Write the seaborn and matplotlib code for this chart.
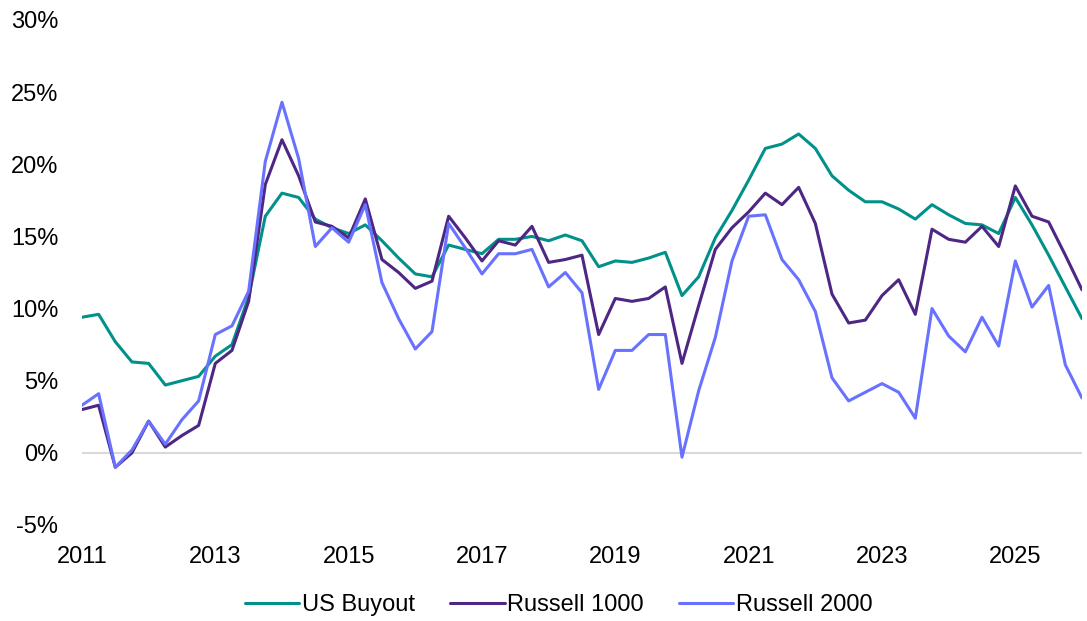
import pandas as pd
import matplotlib
matplotlib.use("Agg")
import matplotlib.pyplot as plt
import seaborn as sns

# quarterly returns, 2011Q1 .. 2026Q1
quarters = pd.period_range("2011Q1", "2026Q1", freq="Q")

us_buyout = [9.4, 9.6, 7.7, 6.3, 6.2, 4.7, 5.0, 5.3, 6.7, 7.5,
             10.8, 16.4, 18.0, 17.7, 16.2, 15.6, 15.2, 15.8, 14.7, 13.5,
             12.4, 12.2, 14.4, 14.1, 13.8, 14.8, 14.8, 15.0, 14.7, 15.1,
             14.7, 12.9, 13.3, 13.2, 13.5, 13.9, 10.9, 12.2, 14.9, 16.8,
             18.9, 21.1, 21.4, 22.1, 21.1, 19.2, 18.2, 17.4, 17.4, 16.9,
             16.2, 17.2, 16.5, 15.9, 15.8, 15.2, 17.7, 15.8, 13.7, 11.5,
             9.3]

russell_1000 = [3.0, 3.3, -1.0, 0.0, 2.2, 0.4, 1.2, 1.9, 6.2, 7.1,
                10.5, 18.6, 21.7, 19.2, 16.0, 15.7, 14.9, 17.6, 13.4, 12.5,
                11.4, 11.9, 16.4, 14.9, 13.3, 14.7, 14.4, 15.7, 13.2, 13.4,
                13.7, 8.2, 10.7, 10.5, 10.7, 11.5, 6.2, 10.2, 14.1, 15.6,
                16.7, 18.0, 17.2, 18.4, 15.9, 11.0, 9.0, 9.2, 10.9, 12.0,
                9.6, 15.5, 14.8, 14.6, 15.7, 14.3, 18.5, 16.4, 16.0, 13.7,
                11.3]

russell_2000 = [3.3, 4.1, -1.0, 0.2, 2.2, 0.6, 2.3, 3.6, 8.2, 8.8,
                11.2, 20.2, 24.3, 20.4, 14.3, 15.6, 14.6, 17.2, 11.8, 9.3,
                7.2, 8.4, 15.9, 14.2, 12.4, 13.8, 13.8, 14.1, 11.5, 12.5,
                11.1, 4.4, 7.1, 7.1, 8.2, 8.2, -0.3, 4.3, 8.0, 13.3,
                16.4, 16.5, 13.4, 12.0, 9.8, 5.2, 3.6, 4.2, 4.8, 4.2,
                2.4, 10.0, 8.1, 7.0, 9.4, 7.4, 13.3, 10.1, 11.6, 6.1,
                3.8]

series_names = ["US Buyout", "Russell 1000", "Russell 2000"]
colors = ["#00918A", "#4E2683", "#6872FF"]
year_ticks = [2011, 2013, 2015, 2017, 2019, 2021, 2023, 2025]

x = [q.year + (q.quarter - 1) / 4 for q in quarters]
df = pd.DataFrame({
    "x": x * 3,
    "value": us_buyout + russell_1000 + russell_2000,
    "series": [s for s in series_names for _ in range(len(x))],
})

sns.set_style("white")
plt.rcParams["font.family"] = ["Liberation Sans", "DejaVu Sans"]
plt.rcParams["text.color"] = "black"

fig = plt.figure(figsize=(10.87, 6.21), dpi=100)
ax = fig.add_axes([0.0754, 0.1546, 0.920, 0.8132])

ax.axhline(0, color="#D9D9D9", lw=1.5, zorder=0)
sns.lineplot(data=df, x="x", y="value", hue="series", hue_order=series_names,
             palette=colors, linewidth=2.2, ax=ax, legend=True)

ax.set_xlim(2011, 2026)
ax.set_ylim(-5, 30)
ax.set_xticks(year_ticks)
ax.set_xticklabels([str(y) for y in year_ticks])
ax.set_yticks(range(-5, 31, 5))
ax.set_yticklabels([f"{v}%" for v in range(-5, 31, 5)])
ax.tick_params(axis="both", length=0, labelsize=17, colors="black")
ax.tick_params(axis="y", pad=17)
ax.tick_params(axis="x", pad=15)
ax.set_xlabel("")
ax.set_ylabel("")
for s in ax.spines.values():
    s.set_visible(False)

handles, labels = ax.get_legend_handles_labels()
ax.get_legend().remove()
leg = fig.legend(handles, labels, loc="center", bbox_to_anchor=(0.514, 0.026),
                 ncol=3, frameon=False, fontsize=17, handlelength=2.3,
                 handletextpad=0.1, columnspacing=1.5)
for t in leg.get_texts():
    t.set_color("black")

fig.savefig("out.png", dpi=100)
